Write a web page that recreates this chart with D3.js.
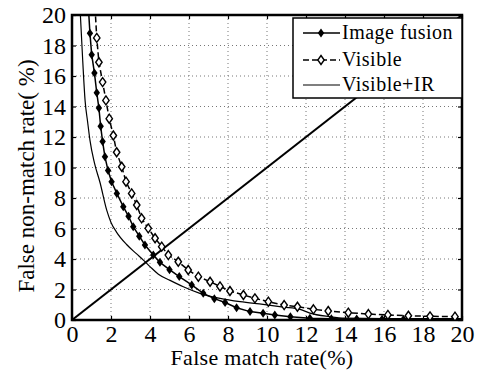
<!DOCTYPE html>
<html><head><meta charset="utf-8">
<script src="https://cdn.jsdelivr.net/npm/d3@7"></script>
<style>body{margin:0;background:#fff}</style>
</head><body><svg id="c" width="478" height="374"></svg>
<script>
const xTicks = [0,2,4,6,8,10,12,14,16,18,20];
const yTicks = [0,2,4,6,8,10,12,14,16,18,20];
const seriesNames = ["Image fusion","Visible","Visible+IR"];
const fusionX = [0.84,0.92,1.01,1.15,1.27,1.38,1.47,1.57,1.69,1.85,2.03,2.3,2.63,2.9,3.14,3.45,3.74,4.17,4.51,5.0,5.5,6.14,6.73,7.3,7.85,8.44,9.13,9.8,10.4,11.2,12.2,13.3,14.6,15.9,17.0,18.4,19.7];
const fusionY = [20.5,18.8,17.4,16.2,14.9,13.9,12.7,11.7,10.7,9.8,9.07,8.3,7.43,6.8,6.12,5.5,4.92,4.26,3.78,3.3,2.85,2.3,1.75,1.4,1.15,0.8,0.55,0.45,0.33,0.22,0.12,0.08,0.06,0.05,0.05,0.04,0.04];
const visX = [1.18,1.27,1.38,1.57,1.74,1.91,2.12,2.29,2.55,2.77,3.06,3.32,3.57,3.91,4.26,4.6,4.94,5.45,5.96,6.48,7.08,7.59,8.1,8.79,9.38,10.07,10.88,11.56,12.38,13.14,14.17,15.2,16.2,17.25,18.36,19.64];
const visY = [20.5,18.5,16.9,15.6,14.4,13.2,12.1,11.0,10.05,9.07,8.3,7.54,6.67,6.01,5.36,4.81,4.26,3.82,3.28,2.84,2.51,2.2,1.9,1.64,1.42,1.2,0.98,0.87,0.7,0.59,0.48,0.39,0.33,0.28,0.24,0.22];
const irX = [0.41,0.55,0.67,0.8,0.92,1.15,1.44,1.78,2.0,2.29,2.8,3.3,3.66,4.0,4.43,5.03,5.71,6.56,7.59,8.62,9.8,10.84,11.7,12.2,13.2,14.0,16.0,18.0,20.0];
const irY = [20.5,17,14.4,13,11.8,10.3,9.0,7.2,6.4,5.75,4.95,4.35,3.93,3.5,3.0,2.6,2.18,1.75,1.42,1.2,1.02,0.85,0.7,0.45,0.22,0.12,0.1,0.1,0.1];
const diagX = [0,20];
const diagY = [0,20];

const FONT = "Liberation Serif";
const svg = d3.select("#c");
const L=72,R=462,T=15,B=320;
const x = d3.scaleLinear().domain([0,20]).range([L,R]);
const y = d3.scaleLinear().domain([0,20]).range([B,T]);

svg.append("defs").append("clipPath").attr("id","clip").append("rect")
  .attr("x",L).attr("y",T).attr("width",R-L).attr("height",B-T);

const grid = svg.append("g");
grid.selectAll(".gx").data(xTicks.slice(1,-1)).enter().append("line")
  .attr("x1",d=>x(d)).attr("x2",d=>x(d)).attr("y1",T).attr("y2",B)
  .attr("stroke","#777").attr("stroke-width",1).attr("stroke-dasharray","1,3");
grid.selectAll(".gy").data(yTicks.slice(1,-1)).enter().append("line")
  .attr("y1",d=>y(d)).attr("y2",d=>y(d)).attr("x1",L).attr("x2",R)
  .attr("stroke","#777").attr("stroke-width",1).attr("stroke-dasharray","1,3");

const xa = svg.append("g").attr("transform",`translate(0,${B})`)
  .call(d3.axisBottom(x).tickValues(xTicks).tickSize(-4).tickPadding(5).tickFormat(d3.format("d")));
const ya = svg.append("g").attr("transform",`translate(${L},0)`)
  .call(d3.axisLeft(y).tickValues(yTicks).tickSize(-4).tickPadding(6).tickFormat(d3.format("d")));
const xt = svg.append("g").attr("transform",`translate(0,${T})`)
  .call(d3.axisTop(x).tickValues(xTicks).tickSize(-4).tickFormat(""));
const yr = svg.append("g").attr("transform",`translate(${R},0)`)
  .call(d3.axisRight(y).tickValues(yTicks).tickSize(-4).tickFormat(""));
[xa,ya,xt,yr].forEach(g=>{
  g.attr("font-family",FONT).attr("font-size",24);
  g.select(".domain").remove();
  g.selectAll(".tick line").attr("stroke","#000").attr("stroke-width",1.2);
  g.selectAll(".tick text").attr("fill","#000");
});
svg.append("rect").attr("x",L).attr("y",T).attr("width",R-L).attr("height",B-T)
  .attr("fill","none").attr("stroke","#000").attr("stroke-width",2.5);

const plot = svg.append("g").attr("clip-path","url(#clip)");
const line = d3.line().x(d=>x(d[0])).y(d=>y(d[1]));
const zip=(a,b)=>a.map((v,i)=>[v,b[i]]);
const fusion = zip(fusionX,fusionY), vis = zip(visX,visY), ir = zip(irX,irY), diag = zip(diagX,diagY);

plot.append("path").datum(diag).attr("d",line).attr("fill","none").attr("stroke","#000").attr("stroke-width",2);
plot.append("path").datum(ir).attr("d",d3.line().curve(d3.curveMonotoneX).x(d=>x(d[0])).y(d=>y(d[1])))
  .attr("fill","none").attr("stroke","#000").attr("stroke-width",1.2);
plot.append("path").datum(fusion).attr("d",line).attr("fill","none").attr("stroke","#000").attr("stroke-width",1.5);
plot.append("path").datum(vis).attr("d",line).attr("fill","none").attr("stroke","#000").attr("stroke-width",1.5).attr("stroke-dasharray","6,3");

const diamond = "M0,-4.5L3.2,0L0,4.5L-3.2,0Z";
plot.selectAll(".mf").data(fusion.slice(1)).enter().append("path")
  .attr("d",diamond).attr("transform",d=>`translate(${x(d[0])},${y(d[1])})`).attr("fill","#000");
plot.selectAll(".mv").data(vis.slice(1)).enter().append("path")
  .attr("d",diamond).attr("transform",d=>`translate(${x(d[0])},${y(d[1])})`)
  .attr("fill","#fff").attr("stroke","#000").attr("stroke-width",1.4);

const lg = svg.append("g").attr("font-family",FONT);
lg.append("rect").attr("x",293).attr("y",18).attr("width",R-293).attr("height",80)
  .attr("fill","#fff").attr("stroke","#000").attr("stroke-width",1.5);
const rows=[33,60,85];
seriesNames.forEach((n,i)=>{
  const yy=rows[i];
  const l = lg.append("line").attr("x1",303).attr("x2",340).attr("y1",yy).attr("y2",yy)
    .attr("stroke","#000").attr("stroke-width",i==2?1.2:1.5);
  if(i==1) l.attr("stroke-dasharray","6,3");
  if(i==0) lg.append("path").attr("d",diamond).attr("transform",`translate(321,${yy})`).attr("fill","#000");
  if(i==1) lg.append("path").attr("d",diamond).attr("transform",`translate(321,${yy})`).attr("fill","#fff").attr("stroke","#000").attr("stroke-width",1.4);
  lg.append("text").attr("x",342).attr("y",yy+6).text(n).attr("font-size",20).attr("letter-spacing",0.5).attr("fill","#000");
});

svg.append("text").attr("x",262).attr("y",365).attr("text-anchor","middle").attr("font-family",FONT)
  .attr("font-size",22).attr("letter-spacing",0.3).text("False match rate(%)");
svg.append("text").attr("transform","translate(34,176) rotate(-90)").attr("text-anchor","middle").attr("font-family",FONT)
  .attr("font-size",23).text("False non-match rate( %)");
</script></body></html>
